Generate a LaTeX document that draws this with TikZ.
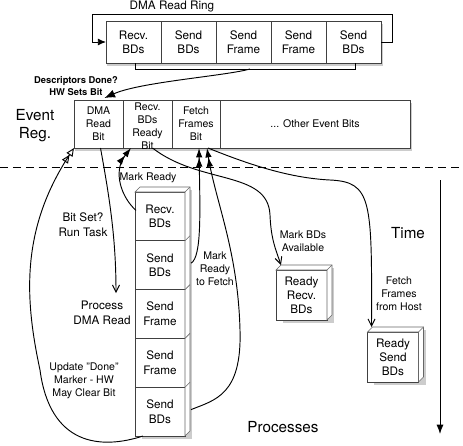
\documentclass[tikz,border=0pt]{standalone}
\usepackage{fontspec}
\setmainfont{TeX Gyre Heros}
\usetikzlibrary{arrows.meta, positioning, calc, backgrounds}

\tikzset{
  cellbase/.style = {draw=black!75, fill=white, line width=0.65pt, inner sep=0pt, outer sep=0pt, align=center},
  ringcell/.style = {cellbase, minimum width=1.65cm, minimum height=1.26cm, font=\fontsize{10}{12}\selectfont},
  evcell/.style = {cellbase, minimum height=1.44cm, font=\fontsize{9}{11}\selectfont},
  evtext/.style = {align=center, inner sep=0pt, font=\fontsize{9}{11}\selectfont},
  stackcell/.style = {cellbase, minimum width=1.5cm, minimum height=1.464cm, font=\fontsize{10}{12.5}\selectfont},
  readybox/.style = {cellbase, minimum width=1.53cm, minimum height=1.5cm, font=\fontsize{10}{12}\selectfont},
  face/.style = {draw=black!60, fill=white, line width=0.5pt},
  shade/.style = {fill=black!20},
  smalllbl/.style = {align=center, inner sep=0pt, font=\fontsize{9}{11}\selectfont},
  midlbl/.style = {align=center, inner sep=0pt, font=\fontsize{10}{12.5}\selectfont},
  biglbl/.style = {align=center, inner sep=0pt, font=\fontsize{13}{15.3}\selectfont},
  boldlbl/.style = {align=center, inner sep=0pt, font=\fontsize{8}{10.2}\selectfont\bfseries},
  twohead/.style = {-{Latex[length=8pt,width=5.5pt] Latex[length=8pt,width=5.5pt]}},
  twoopen/.style = {-{Triangle[open,length=7pt,width=6pt] Triangle[open,length=7pt,width=6pt]}},
  barb/.style = {-{Straight Barb[length=6pt,width=6pt]}}
}

\begin{document}
\begin{tikzpicture}[x=0.03cm, y=-0.03cm, line width=0.8pt]
  \useasboundingbox (0,0) rectangle (463,446);

  % DMA read ring
  \node[ringcell] (r1) at (133.5,42) {Recv.\\BDs};
  \node[ringcell, right=0pt of r1] (r2) {Send\\BDs};
  \node[ringcell, right=0pt of r2] (r3) {Send\\Frame};
  \node[ringcell, right=0pt of r3] (r4) {Send\\Frame};
  \node[ringcell, right=0pt of r4] (r5) {Send\\BDs};
  \node[midlbl] (ringname) at (172,7) {DMA Read Ring};
  \draw[-{Latex[length=7pt,width=6pt]}] (r5.east) -- ++(11,0) |- (92,14) |- (r1.west);

  % bracket under the ring
  \draw ($(r1.south)+(1.5,0)$) -- ++(0,6) -| ($(r5.south)+(1.5,0)$);
  \coordinate (ringmid) at (250,69);

  % event register
  \node[evcell, minimum width=1.47cm] (dma) at (98.5,124) {DMA\\Read\\Bit};
  \node[evcell, minimum width=1.47cm, right=0pt of dma,
        label={[evtext, yshift=-2pt]center:Recv.\\BDs\\Ready\\Bit}] (rbd) {};
  \node[evcell, minimum width=1.44cm, right=0pt of rbd] (ff) {Fetch\\Frames\\Bit};
  \node[evcell, minimum width=5.7cm, right=0pt of ff] (other) {... Other Event Bits};
  \node[biglbl] (evreg) at (35,126) {Event\\Reg.};

  \node[boldlbl] (descdone) at (76,86) {Descriptors Done?\\HW Sets Bit};
  \draw[-{Latex[length=9pt,width=7pt]}] (ringmid) .. controls (225,76) and (140,82) .. ($(dma.north)+(6,-2)$);

  % dashed separator
  \draw[dash pattern=on 6.8pt off 4.2pt] (0,167) -- (463,167);

  % process stack
  \node[stackcell] (s1) at (160,216.4) {Recv.\\BDs};
  \node[stackcell, below=0pt of s1] (s2) {Send\\BDs};
  \node[stackcell, below=0pt of s2] (s3) {Send\\Frame};
  \node[stackcell, below=0pt of s3] (s4) {Send\\Frame};
  \node[stackcell, below=0pt of s4] (s5) {Send\\BDs};

  \node[readybox] (rr) at (301.5,295) {Ready\\Recv.\\BDs};
  \node[readybox] (rs) at (393,357) {Ready\\Send\\BDs};

  % 3D faces
  \foreach \n/\m in {s1/s5, rr/rr, rs/rs} {
    \draw[face] (\n.north west) -- ++(5,-5) -- ($(\n.north east)+(5,-5)$)
      -- ($(\m.south east)+(5,-5)$) -- (\m.south east) -- (\n.north east) -- cycle;
    \draw[face] (\n.north east) -- ++(5,-5);
  }
  \foreach \n in {s1, s2, s3, s4}
    \draw[face] (\n.south east) -- ++(5,-5);

  % shadows
  \begin{scope}[on background layer]
    \fill[shade] ($(r1.north west)+(1.5,2.5)$) rectangle ($(r5.south east)+(1.5,2.5)$);
    \fill[shade] ($(dma.north west)+(1.5,2.5)$) rectangle ($(other.south east)+(1.5,2.5)$);
    \foreach \n/\m in {s1/s5, rr/rr, rs/rs}
      \fill[shade] ($(\n.north west)+(7,-2)$) rectangle ($(\m.south east)+(7,2.5)$);
  \end{scope}

  % labels
  \node[midlbl] (bitset) at (83,225) {Bit Set?\\Run Task};
  \node[midlbl] (procdma) at (102,313) {Process\\DMA Read};
  \node[smalllbl] (update) at (84,381) {Update "Done"\\Marker - HW\\May Clear Bit};
  \node[smalllbl] (markready) at (148,178) {Mark Ready};
  \node[smalllbl] (marktofetch) at (215,269) {Mark\\Ready\\to Fetch};
  \node[smalllbl] (markavail) at (303,241) {Mark BDs\\Available};
  \node[smalllbl] (fetchhost) at (399,294) {Fetch\\Frames\\from Host};
  \node[biglbl] (time) at (408,233) {Time};
  \node[biglbl] (procs) at (283,427) {Processes};

  % time axis
  \coordinate (ttop) at (440,180);
  \coordinate (tbot) at (440,434);
  \draw[-{Latex[length=8pt,width=6pt]}] (ttop) -- (tbot);

  % connectors
  \coordinate (procarrow) at (116,293);
  \draw[barb] ($(dma.south)+(2,0)$) .. controls (110,200) and (116,240) .. (procarrow);

  \draw[twoopen] ($(s5.south west)+(8,0)$) .. controls (100,450) and (50,445) .. (40,370)
    .. controls (25,300) and (20,230) .. (dma.south west);

  \draw[twohead] ($(s1.west)+(1,-6)$) .. controls (122,198) and (112,172) .. ($(rbd.south west)+(8,0)$);

  \draw[twohead] ($(s2.east)+(6,-2)$) .. controls (202,257) and (200,210) .. ($(ff.south)+(3,0)$);

  \draw[twohead] ($(s5.east)+(6,-2)$) .. controls (215,400) and (242,395) .. (240,330)
    .. controls (238,250) and (215,200) .. ($(ff.south)+(11,0)$);

  \draw[barb] ($(rbd.south)+(5,0)$) .. controls (200,185) and (268,170) .. (270,215)
    .. controls (271,240) and (276,250) .. ($(rr.north west)+(5,-5)$);

  \draw[barb] ($(ff.south)+(12,0)$) .. controls (250,165) and (290,178) .. (330,180)
    .. controls (372,182) and (372,200) .. ($(rs.north west)+(4,-5)$);
\end{tikzpicture}
\end{document}
